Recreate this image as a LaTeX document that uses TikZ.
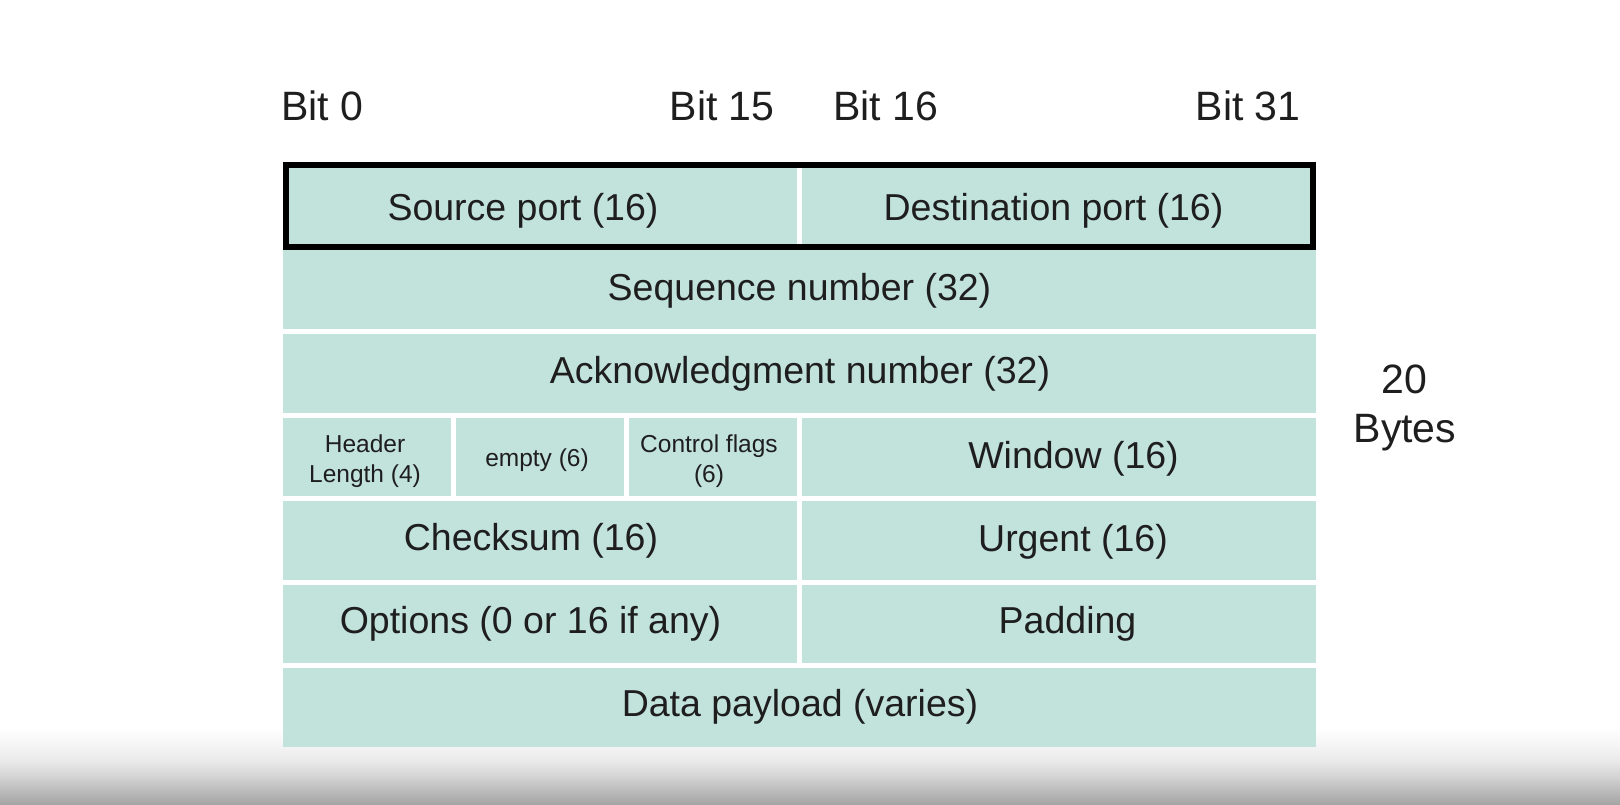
\documentclass[tikz,border=0pt]{standalone}
\usepackage{fontspec}
\setmainfont{Liberation Sans}
\definecolor{cellfill}{RGB}{194,226,220}
\definecolor{ink}{RGB}{30,30,30}
\definecolor{fzero}{RGB}{165,165,165}
\definecolor{fone}{RGB}{189,189,189}
\definecolor{ftwo}{RGB}{213,213,213}
\definecolor{fthree}{RGB}{233,233,233}
\definecolor{ffour}{RGB}{245,245,245}
\pgfdeclareverticalshading{bottomfade}{100bp}{color(0bp)=(fzero); color(25bp)=(fzero); color(33.75bp)=(fone); color(42bp)=(ftwo); color(50.5bp)=(fthree); color(60.5bp)=(ffour); color(71bp)=(white); color(100bp)=(white)}
\tikzset{
  cell/.style={fill=cellfill, draw=none},
  lbl/.style={font=\fontsize{18.75}{22}\selectfont, text=ink, inner sep=0pt, text height=13.4pt, text depth=0pt, anchor=center},
  smalllbl/.style={font=\fontsize{12.25}{15}\selectfont, text=ink, inner sep=0pt, align=center, anchor=center},
  smallone/.style={font=\fontsize{12.25}{15}\selectfont, text=ink, inner sep=0pt, text height=8.8pt, text depth=0pt, anchor=center},
  bitlbl/.style={font=\fontsize{20.5}{24}\selectfont, text=ink, inner sep=0pt},
  hdrborder/.style={draw=black, line width=3pt}
}
\begin{document}
\begin{tikzpicture}[x=0.5pt,y=-0.5pt]
\useasboundingbox (0,0) rectangle (1620,804);
\fill[white] (0,0) rectangle (1620,804);
\shade[shading=bottomfade] (0,720) rectangle (1620,804);

% row 1
\fill[cell] (283,162) rectangle (797,250);
\fill[cell] (802,162) rectangle (1316,250);
% row 2, 3
\fill[cell] (283,250) rectangle (1316,328.5);
\fill[cell] (283,334) rectangle (1316,412.5);
% row 4
\fill[cell] (283,417.5) rectangle (450.5,496);
\fill[cell] (455.5,417.5) rectangle (624,496);
\fill[cell] (629,417.5) rectangle (797,496);
\fill[cell] (802,417.5) rectangle (1316,496);
% row 5
\fill[cell] (283,501) rectangle (797,579.5);
\fill[cell] (802,501) rectangle (1316,579.5);
% row 6
\fill[cell] (283,584.5) rectangle (797,663);
\fill[cell] (802,584.5) rectangle (1316,663);
% row 7
\fill[cell] (283,668) rectangle (1316,746.5);

\draw[hdrborder] (286,165) rectangle (1313,247);

% bit labels
\node[bitlbl, anchor=base west] (b0) at (281,120) {Bit 0};
\node[bitlbl, anchor=base east] (b15) at (775,120) {Bit 15};
\node[bitlbl, anchor=base west] (b16) at (833,120) {Bit 16};
\node[bitlbl, anchor=base east] (b31) at (1301,120) {Bit 31};

% field labels
\node[lbl] (src) at (523,207) {Source port (16)};
\node[lbl] (dst) at (1053.5,207) {Destination port (16)};
\node[lbl] (seq) at (799.5,287.5) {Sequence number (32)};
\node[lbl] (ack) at (800,370) {Acknowledgment number (32)};
\node[smalllbl] (hlen) at (365,461) {Header\\Length (4)};
\node[smallone] (empty) at (537,458) {empty (6)};
\node[smalllbl] (flags) at (709,461) {Control flags\\(6)};
\node[lbl] (win) at (1073.5,455) {Window (16)};
\node[lbl] (csum) at (531,537.5) {Checksum (16)};
\node[lbl] (urg) at (1073,538) {Urgent (16)};
\node[lbl] (opt) at (530.5,620) {Options (0 or 16 if any)};
\node[lbl] (pad) at (1067.5,620.5) {Padding};
\node[lbl] (data) at (800,703) {Data payload (varies)};

% size label
\node[bitlbl, anchor=base] (twenty) at (1404,393) {20};
\node[bitlbl, anchor=base] (bytes) at (1405,442) {Bytes};
\end{tikzpicture}
\end{document}
